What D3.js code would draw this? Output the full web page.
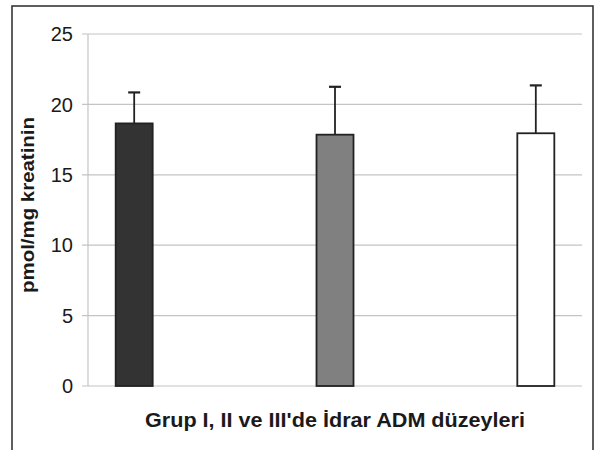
<!DOCTYPE html>
<html>
<head>
<meta charset="utf-8">
<script src="https://cdn.jsdelivr.net/npm/d3@7"></script>
<style>
  body { margin: 0; background: #fff; }
  text { font-family: "Liberation Sans", Arial, sans-serif; fill: #1a1a1a; }
</style>
</head>
<body>
<div id="graphic"></div>
<script>
var width = 595,
    height = 450;

var groups = ["Grup I", "Grup II", "Grup III"];
var means = [18.65, 17.85, 17.95];
var errors = [2.2, 3.4, 3.4];
var fills = ["#333333", "#808080", "#ffffff"];
var yTicks = [0, 5, 10, 15, 20, 25];

var margin = {top: 34, right: 13, bottom: 64, left: 88};

var svg = d3.select("#graphic")
    .append("svg")
    .attr("width", width)
    .attr("height", height);

// outer frame
svg.append("rect")
    .attr("x", 12)
    .attr("y", 6)
    .attr("width", 581)
    .attr("height", 470)
    .attr("fill", "none")
    .attr("stroke", "#2a2a2a")
    .attr("stroke-width", 1.5);

var x = d3.scalePoint()
    .domain(groups)
    .range([margin.left, width - margin.right])
    .padding(0.23);

var y = d3.scaleLinear()
    .domain([0, 25])
    .range([height - margin.bottom, margin.top]);

// grid
svg.append("g")
    .selectAll("line")
    .data(yTicks)
    .enter().append("line")
    .attr("x1", margin.left - 6)
    .attr("x2", width - margin.right)
    .attr("y1", d => y(d))
    .attr("y2", d => y(d))
    .attr("stroke", "#c4c4c4")
    .attr("stroke-width", 1.2);

svg.append("line")
    .attr("x1", margin.left)
    .attr("x2", margin.left)
    .attr("y1", y(25))
    .attr("y2", y(0))
    .attr("stroke", "#c4c4c4")
    .attr("stroke-width", 1.2);

// y tick labels
svg.append("g")
    .selectAll("text")
    .data(yTicks)
    .enter().append("text")
    .attr("x", 73)
    .attr("y", d => y(d))
    .attr("dy", "0.36em")
    .attr("text-anchor", "end")
    .attr("font-size", 20)
    .text(d => d);

var barW = 37;

// error bars (upper only)
var err = svg.append("g")
    .attr("stroke", "#222")
    .attr("stroke-width", 1.8);

err.selectAll(".stem")
    .data(groups)
    .enter().append("line")
    .attr("x1", d => x(d))
    .attr("x2", d => x(d))
    .attr("y1", (d, i) => y(means[i]))
    .attr("y2", (d, i) => y(means[i] + errors[i]));

err.selectAll(".cap")
    .data(groups)
    .enter().append("line")
    .attr("x1", d => x(d) - 6)
    .attr("x2", d => x(d) + 6)
    .attr("y1", (d, i) => y(means[i] + errors[i]))
    .attr("y2", (d, i) => y(means[i] + errors[i]))
    .attr("stroke-width", 2.2);

// bars
svg.append("g")
    .selectAll("rect")
    .data(groups)
    .enter().append("rect")
    .attr("x", d => x(d) - barW / 2)
    .attr("width", barW)
    .attr("y", (d, i) => y(means[i]))
    .attr("height", (d, i) => y(0) - y(means[i]))
    .attr("fill", (d, i) => fills[i])
    .attr("stroke", "#222")
    .attr("stroke-width", 1.8);

// axis titles
svg.append("text")
    .attr("transform", "translate(34,205) rotate(-90)")
    .attr("text-anchor", "middle")
    .attr("font-size", 19)
    .attr("font-weight", "bold")
    .attr("textLength", 176)
    .attr("lengthAdjust", "spacingAndGlyphs")
    .text("pmol/mg kreatinin");

svg.append("text")
    .attr("x", 335)
    .attr("y", 427)
    .attr("text-anchor", "middle")
    .attr("font-size", 20)
    .attr("font-weight", "bold")
    .attr("textLength", 380)
    .attr("lengthAdjust", "spacingAndGlyphs")
    .text("Grup I, II ve III'de İdrar ADM düzeyleri");
</script>
</body>
</html>
